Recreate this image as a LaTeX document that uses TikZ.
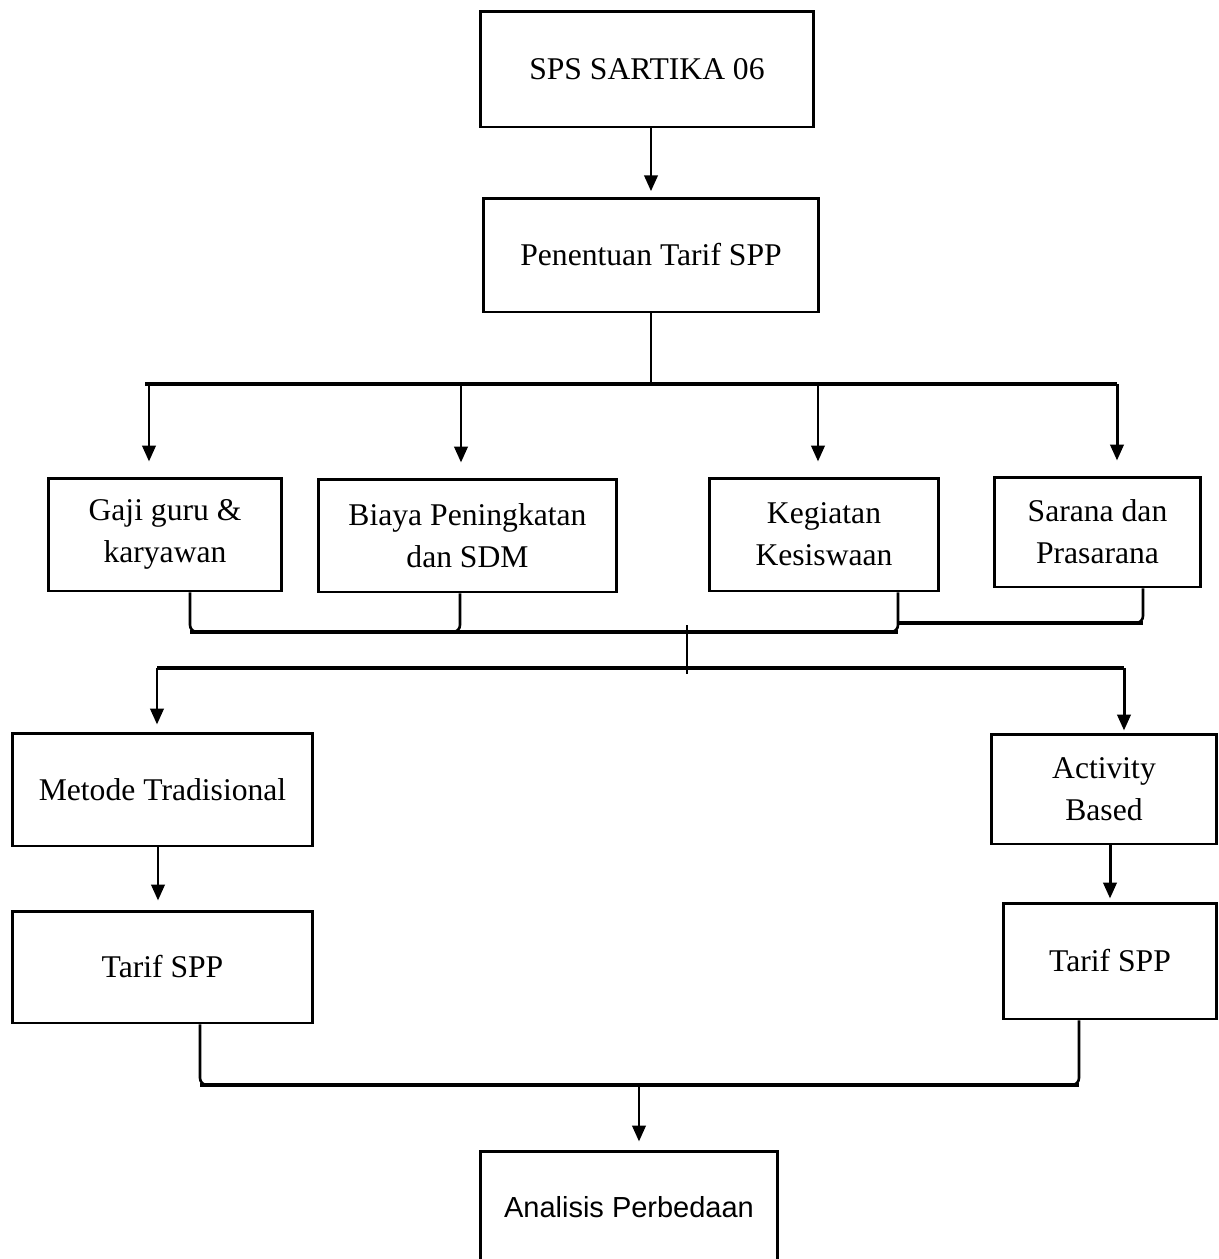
\documentclass[tikz,border=0pt]{standalone}
\usepackage{fontspec}
\setmainfont{Liberation Serif}
\newfontfamily\arialfont{Liberation Sans}
\usetikzlibrary{arrows.meta}

\tikzset{
  box/.style={draw, line width=1.7pt, align=center, inner sep=0pt,
    font=\fontsize{18}{24}\selectfont},
  link/.style={line width=1.7pt},
  bus/.style={line width=2.8pt},
  bracket/.style={line width=1.5pt, rounded corners=4pt}
}

\begin{document}
\begin{tikzpicture}[x=0.02cm, y=-0.02cm, >={Triangle[length=9pt,width=7.5pt]}]
\useasboundingbox (0, 0) rectangle (1219, 1259);

\node[box, minimum width=6.68cm, minimum height=2.32cm] at (647, 69) (SPS) {SPS SARTIKA 06};
\node[box, minimum width=6.72cm, minimum height=2.28cm] at (651, 255) (PENENTUAN) {Penentuan Tarif SPP};

\node[box, minimum width=4.68cm, minimum height=2.26cm] at (165, 534.5) (GAJI) {Gaji guru \&\\karyawan};
\node[box, minimum width=5.98cm, minimum height=2.26cm] at (467.5, 535.5) (BIAYA) {Biaya Peningkatan\\dan SDM};
\node[box, minimum width=4.60cm, minimum height=2.26cm] at (824, 534.5) (KEGIATAN) {Kegiatan\\Kesiswaan};
\node[box, minimum width=4.14cm, minimum height=2.20cm] at (1097.5, 532) (SARANA) {Sarana dan\\Prasarana};

\node[box, minimum width=6.02cm, minimum height=2.26cm] at (162.5, 789.5) (METODE_TRAD) {Metode Tradisional};
\node[box, minimum width=4.52cm, minimum height=2.20cm] at (1104, 789) (ACTIVITY) {Activity\\Based};
\node[box, minimum width=6.02cm, minimum height=2.24cm] at (162.5, 967) (TARIF_TRAD) {Tarif SPP};
\node[box, minimum width=4.28cm, minimum height=2.32cm] at (1110, 961) (TARIF_ABC) {Tarif SPP};

\node[box, minimum width=5.96cm, minimum height=2.24cm, font=\arialfont\fontsize{16.5}{20}\selectfont] at (629, 1207) (ANALISIS) {Analisis Perbedaan};

% bus points
\coordinate (BUS1) at (651, 384);
\coordinate (BUS1_L) at (145, 384);
\coordinate (BUS1_R) at (1117, 384);
\coordinate (DROP_GAJI) at (149, 384);
\coordinate (DROP_BIAYA) at (461, 384);
\coordinate (DROP_KEG) at (818, 384);
\coordinate (JOIN_1) at (190, 632);
\coordinate (JOIN_2) at (460, 632);
\coordinate (JOIN_3) at (898, 632);
\coordinate (JOIN_4) at (898, 623);
\coordinate (JOIN_5) at (1143, 623);
\coordinate (MID_TOP) at (687, 625);
\coordinate (MID_BOT) at (687, 674);
\coordinate (BUS2_L) at (157, 668);
\coordinate (BUS2_R) at (1124, 668);
\coordinate (DROP_TRAD) at (158, 846);
\coordinate (JOIN_L) at (200, 1085);
\coordinate (JOIN_R) at (1079, 1085);
\coordinate (MID_LOW) at (639, 1085);

\draw [->, link, shorten >=3pt] (PENENTUAN.north |- SPS.south) to (PENENTUAN.north);
\draw [link] (PENENTUAN.south) to (BUS1);
\draw [bus] (BUS1_L) to (BUS1_R);
\draw [->, link, shorten >=0.3cm] (DROP_GAJI) to (DROP_GAJI |- GAJI.north);
\draw [->, link, shorten >=0.3cm] (DROP_BIAYA) to (DROP_BIAYA |- BIAYA.north);
\draw [->, link, shorten >=0.3cm] (DROP_KEG) to (DROP_KEG |- KEGIATAN.north);
\draw [->, link, shorten >=0.3cm] (BUS1_R) to (BUS1_R |- SARANA.north);

\draw [bracket] (GAJI.south -| JOIN_1) -- (JOIN_1) -- (JOIN_2) -- (BIAYA.south -| JOIN_2);
\draw [bracket] (JOIN_2) -- (JOIN_3) -- (KEGIATAN.south -| JOIN_3);
\draw [bracket] (JOIN_4) -- (JOIN_5) -- (SARANA.south -| JOIN_5);
\draw [bus] (JOIN_1) to (JOIN_3);
\draw [bus] (JOIN_4) to (JOIN_5);

\draw [link] (MID_TOP) to (MID_BOT);
\draw [bus] (BUS2_L) to (BUS2_R);
\draw [->, link, shorten >=0.14cm] (BUS2_L) to (BUS2_L |- METODE_TRAD.north);
\draw [->, link, shorten >=0.04cm] (BUS2_R) to (BUS2_R |- ACTIVITY.north);

\draw [->, link, shorten >=0.18cm] (DROP_TRAD) to (DROP_TRAD |- TARIF_TRAD.north);
\draw [->, link, shorten >=0.06cm] (ACTIVITY.south -| TARIF_ABC.north) to (TARIF_ABC.north);

\draw [bracket] (TARIF_TRAD.south -| JOIN_L) -- (JOIN_L) -- (JOIN_R) -- (TARIF_ABC.south -| JOIN_R);
\draw [bus] (JOIN_L) to (JOIN_R);
\draw [->, link, shorten >=0.16cm] (MID_LOW) to (MID_LOW |- ANALISIS.north);
\end{tikzpicture}
\end{document}
